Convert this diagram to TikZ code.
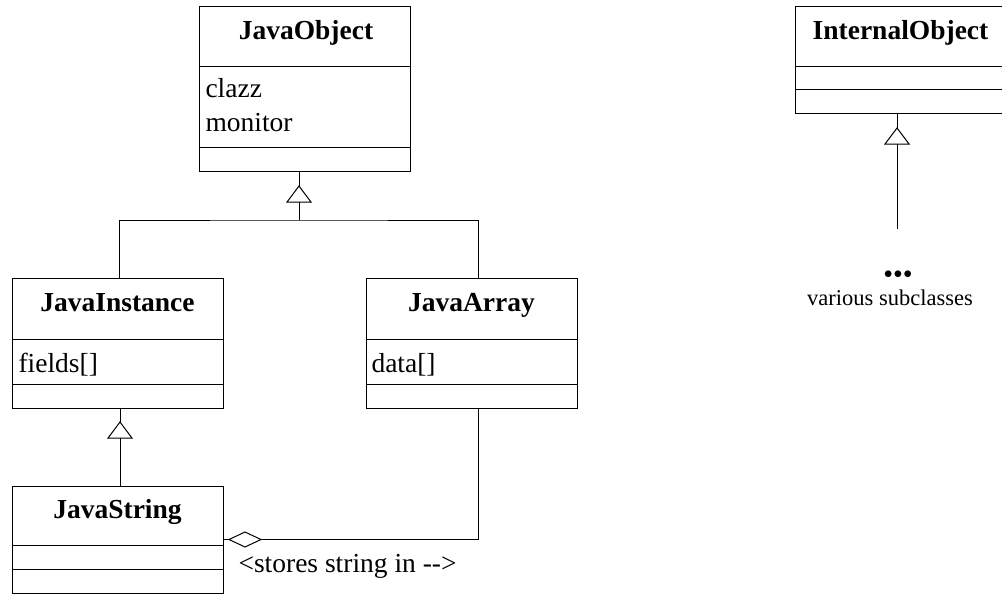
\documentclass[tikz,border=0pt]{standalone}
\usepackage{fontspec}
\setmainfont{Liberation Serif}
\begin{document}
\begin{tikzpicture}[x=1pt,y=-1pt,line width=1pt,
  classbox/.style={draw, inner sep=0pt, outer sep=0pt, minimum width=211pt},
  ctitle/.style={font=\fontsize{27.5}{33}\selectfont\bfseries, anchor=base, inner sep=0pt},
  cattr/.style={font=\fontsize{27.5}{33}\selectfont, anchor=base west, inner sep=0pt},
  small/.style={font=\fontsize{22.5}{27}\selectfont, anchor=base, inner sep=0pt},
  inherit/.style={fill=white},
  aggr/.style={fill=white}]
\useasboundingbox (0,0) rectangle (1002,595);

% ---- classes ----
\node[classbox, minimum height=165pt] (jo) at (305,88.5) {};
\draw ([yshift=-60pt]jo.north west) -- ([yshift=-60pt]jo.north east);
\draw ([yshift=-141pt]jo.north west) -- ([yshift=-141pt]jo.north east);
\node[ctitle] (jo-title) at (306,39) {JavaObject};
\node[cattr] (jo-a1) at (205,97) {clazz};
\node[cattr] (jo-a2) at (205,131) {monitor};

\node[classbox, minimum height=130pt] (ji) at (117.5,343) {};
\draw ([yshift=-61pt]ji.north west) -- ([yshift=-61pt]ji.north east);
\draw ([yshift=-106pt]ji.north west) -- ([yshift=-106pt]ji.north east);
\node[ctitle] (ji-title) at (117.5,311) {JavaInstance};
\node[cattr] (ji-a1) at (18,372) {fields[]};

\node[classbox, minimum height=130pt] (ja) at (471.5,343) {};
\draw ([yshift=-61pt]ja.north west) -- ([yshift=-61pt]ja.north east);
\draw ([yshift=-106pt]ja.north west) -- ([yshift=-106pt]ja.north east);
\node[ctitle] (ja-title) at (471.5,311) {JavaArray};
\node[cattr] (ja-a1) at (371,372) {data[]};

\node[classbox, minimum height=107pt] (js) at (117.5,539.5) {};
\draw ([yshift=-59pt]js.north west) -- ([yshift=-59pt]js.north east);
\draw ([yshift=-83pt]js.north west) -- ([yshift=-83pt]js.north east);
\node[ctitle] (js-title) at (117.5,518) {JavaString};

\node[classbox, minimum height=107pt] (io) at (900.5,59.5) {};
\draw ([yshift=-60pt]io.north west) -- ([yshift=-60pt]io.north east);
\draw ([yshift=-83pt]io.north west) -- ([yshift=-83pt]io.north east);
\node[ctitle] (io-title) at (900.5,39) {InternalObject};

% ---- generalisation: JavaInstance, JavaArray -> JavaObject ----
\coordinate (jo-apex) at (299,186);
\coordinate (jo-base) at (299,202);
\coordinate (jo-bus) at (299,220);
\draw ([xshift=-6pt]jo.south) -- (jo-apex);
\draw[inherit] (jo-apex) -- ++(-12,16) -- ++(24,0) -- cycle;
\draw (jo-base) -- (jo-bus);
\draw ([xshift=1.5pt]ji.north) |- (jo-bus) -| ([xshift=6.5pt]ja.north);

% ---- generalisation: JavaString -> JavaInstance ----
\coordinate (ji-apex) at (120,422);
\coordinate (ji-base) at (120,438);
\draw ([xshift=2.5pt]ji.south) -- (ji-apex);
\draw[inherit] (ji-apex) -- ++(-12,16) -- ++(24,0) -- cycle;
\draw (ji-base) -- ([xshift=2.5pt]js.north);

% ---- generalisation: subclasses -> InternalObject ----
\coordinate (io-apex) at (897,128);
\coordinate (io-base) at (897,144);
\coordinate (io-end) at (897,229);
\draw ([xshift=-3.5pt]io.south) -- (io-apex);
\draw[inherit] (io-apex) -- ++(-12,16) -- ++(24,0) -- cycle;
\draw (io-base) -- (io-end);
\node[font=\fontsize{28}{30}\selectfont, anchor=base, inner sep=0pt] (dots) at (898,283.5) {•••};
\node[small] (subs) at (890,305) {various subclasses};

% ---- aggregation: JavaString <>-- JavaArray ----
\draw (js.east) -- ++(6,0) coordinate (dia-l);
\draw[aggr] (dia-l) -- ++(16,-7.5) -- ++(16,7.5) coordinate (dia-r) -- ++(-16,7.5) -- cycle;
\draw (dia-r) -| ([xshift=6.5pt]ja.south);
\node[cattr] (store) at (238,572) {<stores string in -{}->};
\end{tikzpicture}
\end{document}
